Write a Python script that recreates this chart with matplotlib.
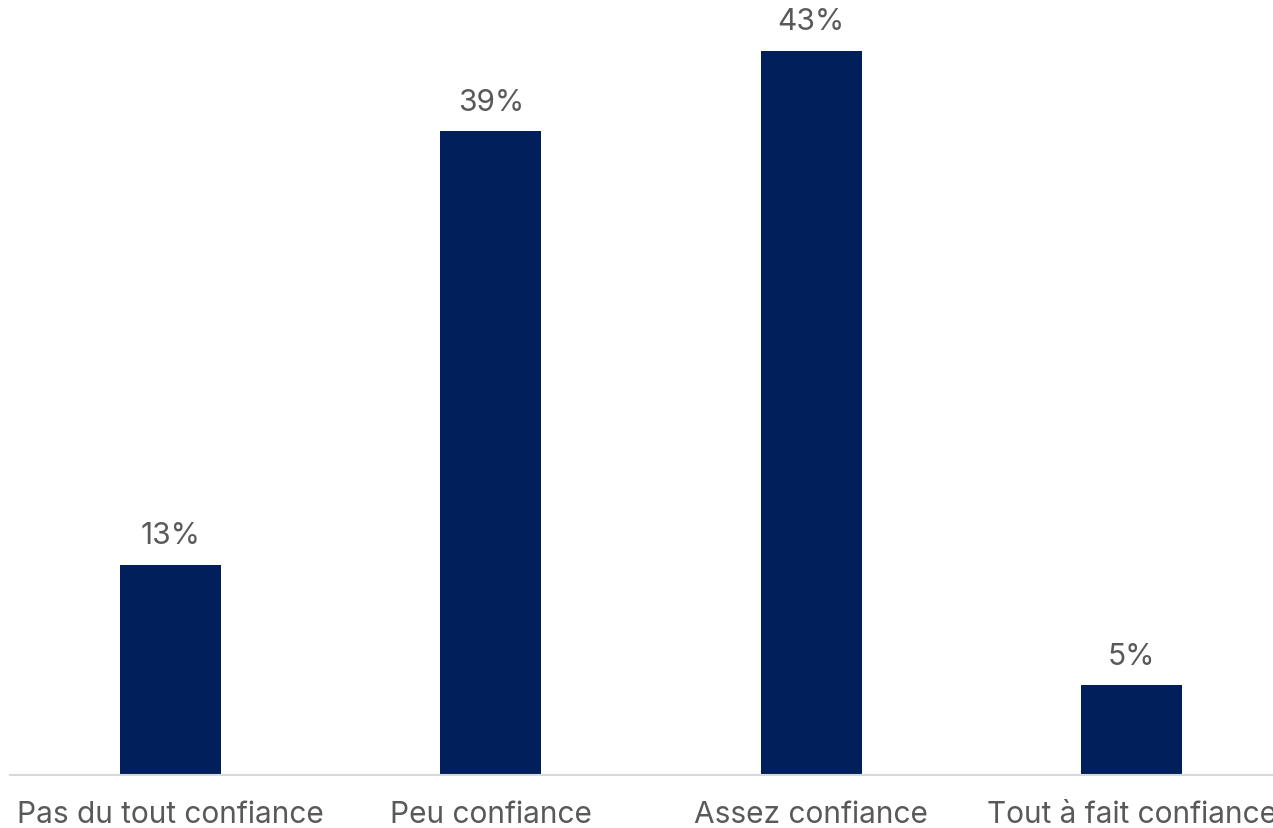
import matplotlib
matplotlib.use("Agg")
import matplotlib.pyplot as plt

categories = ["Pas du tout confiance", "Peu confiance", "Assez confiance", "Tout à fait confiance"]
values = [12.6, 38.6, 43.4, 5.4]

BAR_COLOR = "#001f5b"
TEXT_COLOR = "#595959"

plt.rcParams["font.family"] = ["Inter", "DejaVu Sans"]

W, H = 1273, 829
fig = plt.figure(figsize=(W / 100, H / 100), dpi=100)
# axes spans a bit past the right edge, as in the original
left, bottom = 10 / W, (H - 776) / H
ax = fig.add_axes([left, bottom, 1282 / W, 751 / H])

x = range(len(categories))
bars = ax.bar(x, values, width=0.315, color=BAR_COLOR)

for b, v in zip(bars, values):
    ax.annotate(f"{v:.0f}%", (b.get_x() + b.get_width() / 2, v),
                xytext=(0, 11), textcoords="offset points",
                ha="center", va="bottom", fontsize=21.5, color=TEXT_COLOR)

ax.set_xlim(-0.5, 3.5)
ax.set_ylim(0, 45)
ax.set_xticks(list(x))
ax.set_xticklabels(categories, fontsize=21.5, color=TEXT_COLOR)
ax.tick_params(axis="x", length=0, pad=18)
ax.set_yticks([])
for s in ["top", "right", "left"]:
    ax.spines[s].set_visible(False)
ax.spines["bottom"].set_color("#d9d9d9")
ax.spines["bottom"].set_linewidth(1.5)

fig.savefig("out.png", dpi=100)
